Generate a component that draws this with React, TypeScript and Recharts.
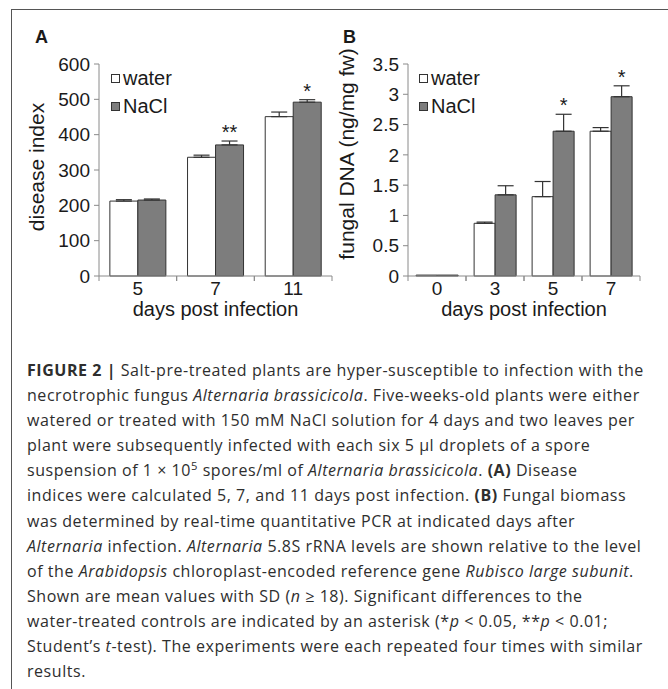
import React from 'react';
import { BarChart, Bar, XAxis, YAxis, ErrorBar, LabelList, Legend } from 'recharts';

// ---------- data ----------
const daysA = ['5', '7', '11'];
const waterA = [212, 336, 451];
const waterErrA = [4, 6, 13];
const naclA = [215, 371, 492];
const naclErrA = [3, 11, 7];
const sigA = ['', '**', '*'];
const ticksA = [0, 100, 200, 300, 400, 500, 600];

const daysB = ['0', '3', '5', '7'];
const waterB = [0.015, 0.87, 1.31, 2.39];
const waterErrB = [0, 0.02, 0.25, 0.06];
const naclB = [0.015, 1.34, 2.39, 2.96];
const naclErrB = [0, 0.15, 0.28, 0.18];
const sigB = ['', '', '*', '*'];
const ticksB = [0, 0.5, 1, 1.5, 2, 2.5, 3, 3.5];

const seriesNames = ['water', 'NaCl'];

const FONT = '"Liberation Sans", Arial, Helvetica, sans-serif';
const AX = '#8a8a8a';
const INK = '#1a1a1a';
const BAR_STROKE = '#333';
const GRAY = '#7d7d7d';

function buildRows(days: string[], w: number[], we: number[], n: number[], ne: number[], sig: string[]) {
  return days.map((d, i) => ({
    day: d,
    water: w[i],
    waterE: we[i] ? [0, we[i]] : null,
    nacl: n[i],
    naclE: ne[i] ? [0, ne[i]] : null,
    naclErrRaw: ne[i],
    sig: sig[i],
  }));
}

const rowsA = buildRows(daysA, waterA, waterErrA, naclA, naclErrA, sigA);
const rowsB = buildRows(daysB, waterB, waterErrB, naclB, naclErrB, sigB);

const XTick = (props: any) => {
  const { x, y, payload } = props;
  const half = payload && payload.offset != null ? payload.offset : 0;
  return (
    <g>
      <line x1={x - half} x2={x - half} y1={y - 6} y2={y - 1} stroke={AX} strokeWidth={1} />
      <line x1={x + half} x2={x + half} y1={y - 6} y2={y - 1} stroke={AX} strokeWidth={1} />
      <text x={x} y={y} dy="0.71em" textAnchor="middle" fontSize={19} fill={INK} fontFamily={FONT}>
        {payload.value}
      </text>
    </g>
  );
};

const makeSig = (rows: any[]) => (props: any) => {
  const { index } = props;
  const x = Number(props.x), y = Number(props.y), width = Number(props.width), height = Number(props.height);
  const r = rows[index];
  if (!r || !r.sig) return null;
  const px = r.nacl ? (r.naclErrRaw * height) / r.nacl : 0;
  return (
    <text x={x + width / 2} y={y - px - 2} textAnchor="middle" fontSize={20} fill={INK} fontFamily={FONT}>
      {r.sig}
    </text>
  );
};

const LegendBox = (props: any) => {
  const payload = [...(props.payload || [])].sort(
    (a: any, b: any) => seriesNames.indexOf(a.value) - seriesNames.indexOf(b.value)
  );
  return (
    <div style={{ fontFamily: FONT, fontSize: 20, lineHeight: '28px', color: INK }}>
      {payload.map((e: any, i: number) => (
        <div key={i} style={{ display: 'flex', alignItems: 'center', whiteSpace: 'nowrap' }}>
          <span
            style={{
              display: 'inline-block',
              width: 9,
              height: 9,
              boxSizing: 'border-box',
              border: '1px solid #333',
              background: e.color,
              marginRight: 3,
            }}
          />
          {e.value}
        </div>
      ))}
    </div>
  );
};

const YLabel = (text: string, centerShift: number) => (props: any) => {
  const vb = props.viewBox || {};
  const cx = vb.x + 44;
  const cy = vb.y + vb.height / 2 + centerShift;
  return (
    <text x={cx} y={cy} transform={`rotate(-90, ${cx}, ${cy})`} textAnchor="middle" fontSize={21} fill={INK} fontFamily={FONT}>
      {text}
    </text>
  );
};

const XLabel = (text: string) => (props: any) => {
  const vb = props.viewBox || {};
  return (
    <text x={vb.x + vb.width / 2} y={vb.y + 40} textAnchor="middle" fontSize={20} fill={INK} fontFamily={FONT}>
      {text}
    </text>
  );
};

type PanelProps = {
  rows: any[];
  ticks: number[];
  domainMax: number;
  width: number;
  yAxisWidth: number;
  yLabel: string;
  yLabelShift: number;
  legendLeft: number;
};

const Panel = ({ rows, ticks, domainMax, width, yAxisWidth, yLabel, yLabelShift, legendLeft }: PanelProps) => (
  <BarChart
    width={width}
    height={320}
    data={rows}
    margin={{ top: 64, right: 8, left: 0, bottom: 0 }}
    barCategoryGap="14%"
    barGap={0}
  >
    <XAxis
      dataKey="day"
      height={44}
      axisLine={{ stroke: AX }}
      tickLine={{ stroke: 'none' }}
      tickSize={5}
      tickMargin={1}
      tick={<XTick />}
      interval={0}
      label={XLabel('days post infection')}
    />
    <XAxis xAxisId="top" dataKey="day" orientation="top" height={0} tick={false} tickLine={false} axisLine={{ stroke: AX }} />
    <YAxis
      width={yAxisWidth}
      domain={[0, domainMax]}
      ticks={ticks}
      interval={0}
      axisLine={{ stroke: AX }}
      tickLine={{ stroke: AX }}
      tickSize={5}
      tickMargin={4}
      tick={{ fontSize: 19, fill: INK, fontFamily: FONT }}
      label={YLabel(yLabel, yLabelShift)}
    />
    <YAxis yAxisId="right" orientation="right" width={0} tick={false} tickLine={false} axisLine={{ stroke: AX }} />
    <Legend
      layout="vertical"
      align="center"
      verticalAlign="middle"
      wrapperStyle={{ left: legendLeft, top: 64, width: 'auto' }}
      content={LegendBox}
    />
    <Bar dataKey="water" name={seriesNames[0]} fill="#ffffff" stroke={BAR_STROKE} strokeWidth={1} isAnimationActive={false}>
      <ErrorBar dataKey="waterE" width={8} stroke={BAR_STROKE} strokeWidth={1.2} direction="y" />
    </Bar>
    <Bar dataKey="nacl" name={seriesNames[1]} fill={GRAY} stroke={BAR_STROKE} strokeWidth={1} isAnimationActive={false}>
      <ErrorBar dataKey="naclE" width={8} stroke={BAR_STROKE} strokeWidth={1.2} direction="y" />
      <LabelList dataKey="nacl" content={makeSig(rows)} />
    </Bar>
  </BarChart>
);

const capStyle: React.CSSProperties = {
  position: 'absolute',
  left: 27,
  top: 358,
  fontFamily: '"Open Sans", "Liberation Sans", Arial, sans-serif',
  fontWeight: 400,
  fontSize: 16,
  letterSpacing: '0.55px',
  lineHeight: '25.1px',
  color: '#2e2e2e',
  whiteSpace: 'nowrap',
};

export default function App() {
  return (
    <div style={{ position: 'absolute', left: 0, top: 0, width: 668, height: 689, overflow: 'hidden', background: '#fff' }}>
      <div
        style={{
          position: 'absolute',
          left: 11,
          top: 9,
          width: 657,
          height: 680,
          boxSizing: 'border-box',
          borderTop: '1.5px solid #555',
          borderLeft: '1.5px solid #555',
        }}
      />
      <div style={{ position: 'absolute', left: 35, top: 28, fontFamily: FONT, fontWeight: 700, fontSize: 18, lineHeight: '18px', color: INK }}>A</div>
      <div style={{ position: 'absolute', left: 343, top: 28, fontFamily: FONT, fontWeight: 700, fontSize: 18, lineHeight: '18px', color: INK }}>B</div>
      <div style={{ position: 'absolute', left: 0, top: 0 }}>
        <Panel rows={rowsA} ticks={ticksA} domainMax={600} width={340} yAxisWidth={99} yLabel="disease index" yLabelShift={-3} legendLeft={111} />
      </div>
      <div style={{ position: 'absolute', left: 310, top: 0 }}>
        <Panel rows={rowsB} ticks={ticksB} domainMax={3.5} width={338} yAxisWidth={98} yLabel="fungal DNA (ng/mg fw)" yLabelShift={-16} legendLeft={109} />
      </div>
      <div style={capStyle}>
        <div><b style={{ fontWeight: 700 }}>FIGURE 2 |</b> Salt-pre-treated plants are hyper-susceptible to infection with the</div>
        <div>necrotrophic fungus <i>Alternaria brassicicola</i>. Five-weeks-old plants were either</div>
        <div>watered or treated with 150 mM NaCl solution for 4 days and two leaves per</div>
        <div>plant were subsequently infected with each six 5 μl droplets of a spore</div>
        <div>suspension of 1 × 10<sup style={{ fontSize: '0.7em', lineHeight: 0 }}>5</sup> spores/ml of <i>Alternaria brassicicola</i>. <b style={{ fontWeight: 700 }}>(A)</b> Disease</div>
        <div>indices were calculated 5, 7, and 11 days post infection. <b style={{ fontWeight: 700 }}>(B)</b> Fungal biomass</div>
        <div>was determined by real-time quantitative PCR at indicated days after</div>
        <div><i>Alternaria</i> infection. <i>Alternaria</i> 5.8S rRNA levels are shown relative to the level</div>
        <div>of the <i>Arabidopsis</i> chloroplast-encoded reference gene <i>Rubisco large subunit</i>.</div>
        <div>Shown are mean values with SD (<i>n</i> ≥ 18). Significant differences to the</div>
        <div>water-treated controls are indicated by an asterisk (*<i>p</i> &lt; 0.05, **<i>p</i> &lt; 0.01;</div>
        <div>Student’s <i>t</i>-test). The experiments were each repeated four times with similar</div>
        <div>results.</div>
      </div>
    </div>
  );
}
